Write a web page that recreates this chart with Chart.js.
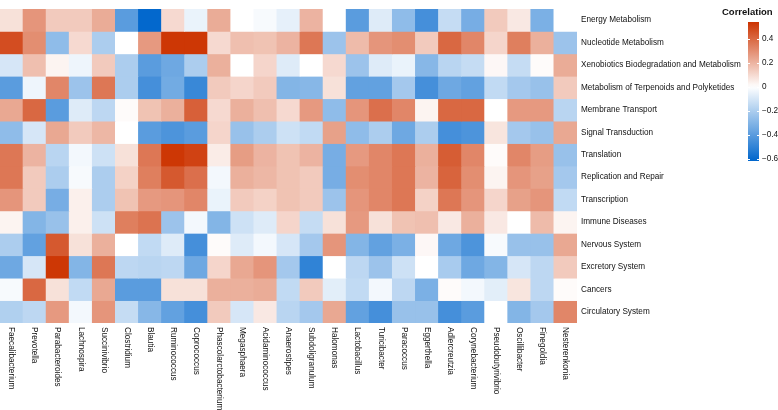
<!DOCTYPE html>
<html>
<head>
<meta charset="utf-8">
<script src="https://cdn.jsdelivr.net/npm/chart.js@4.4.1/dist/chart.umd.min.js"></script>
<style>
  html, body { margin: 0; padding: 0; background: #fff; }
  #heat { display: block; }
</style>
</head>
<body>
<canvas id="heat" width="778" height="410"></canvas>
<script>
// genera (columns) and KEGG pathways (rows)
const genera = ["Faecalibacterium", "Prevotella", "Parabacteroides", "Lachnospira", "Succinivibrio",
  "Clostridium", "Blautia", "Ruminococcus", "Coprococcus", "Phascolarctobacterium", "Megasphaera",
  "Acidaminococcus", "Anaerostipes", "Subdoligranulum", "Halomonas", "Lactobacillus", "Turicibacter",
  "Paracoccus", "Eggerthella", "Adlercreutzia", "Corynebacterium", "Pseudobutyrivibrio",
  "Oscillibacter", "Finegoldia", "Nesterenkonia"];

const pathways = ["Energy Metabolism", "Nucleotide Metabolism", "Xenobiotics Biodegradation and Metabolism",
  "Metabolism of Terpenoids and Polyketides", "Membrane Transport", "Signal Transduction", "Translation",
  "Replication and Repair", "Transcription", "Immune Diseases", "Nervous System", "Excretory System",
  "Cancers", "Circulatory System"];

// correlation per pathway, one value per genus
const energyMetabolism = [0.08, 0.28, 0.14, 0.14, 0.22, -0.40, -0.61, 0.10, -0.05, 0.22, 0.00, -0.02, -0.06, 0.20, 0.00, -0.40, -0.08, -0.27, -0.45, -0.14, -0.33, 0.14, 0.06, -0.32, 0.00];
const nucleotideMetabolism = [0.47, 0.30, -0.27, 0.10, -0.20, 0.00, 0.27, 0.53, 0.53, 0.10, 0.17, 0.16, 0.20, 0.36, -0.24, 0.18, 0.28, 0.30, 0.14, 0.40, 0.32, 0.11, 0.34, 0.21, -0.24];
const xenobiotics = [-0.10, 0.17, 0.03, -0.04, 0.14, -0.20, -0.40, -0.35, -0.20, 0.21, 0.00, 0.11, -0.08, 0.00, 0.10, -0.24, -0.08, -0.05, -0.29, -0.17, -0.14, 0.02, -0.14, 0.01, 0.22];
const terpenoids = [-0.40, -0.04, 0.32, -0.24, 0.36, -0.20, -0.45, -0.34, -0.48, 0.14, 0.11, 0.14, -0.30, -0.29, 0.08, -0.38, -0.38, -0.22, -0.45, -0.35, -0.38, -0.15, -0.22, -0.25, 0.14];
const membraneTransport = [0.23, 0.40, -0.40, -0.08, -0.16, 0.01, 0.16, 0.21, 0.42, 0.10, 0.21, 0.17, 0.10, 0.27, -0.27, 0.28, 0.38, 0.32, 0.03, 0.40, 0.40, 0.00, 0.27, 0.27, -0.17];
const signalTransduction = [-0.27, -0.10, 0.23, 0.14, 0.19, 0.00, -0.40, -0.43, -0.40, 0.11, -0.25, -0.20, -0.12, -0.15, 0.25, -0.27, -0.20, -0.35, -0.20, -0.45, -0.43, 0.07, -0.22, -0.25, 0.23];
const translation = [0.36, 0.20, -0.17, -0.03, -0.12, 0.08, 0.36, 0.53, 0.50, 0.05, 0.26, 0.20, 0.16, 0.20, -0.33, 0.27, 0.32, 0.36, 0.21, 0.43, 0.32, 0.01, 0.32, 0.26, -0.25];
const replicationRepair = [0.36, 0.14, -0.20, -0.02, -0.20, 0.12, 0.34, 0.44, 0.38, -0.03, 0.21, 0.19, 0.16, 0.14, -0.33, 0.30, 0.32, 0.36, 0.20, 0.41, 0.30, 0.03, 0.28, 0.25, -0.22];
const transcription = [0.28, 0.14, -0.33, 0.04, -0.20, 0.16, 0.27, 0.28, 0.32, -0.05, 0.14, 0.12, 0.16, 0.14, -0.24, 0.28, 0.32, 0.36, 0.12, 0.36, 0.28, 0.11, 0.25, 0.28, -0.15];
const immuneDiseases = [0.03, -0.30, -0.25, 0.04, -0.12, 0.34, 0.37, -0.24, -0.03, -0.30, -0.12, -0.08, 0.11, -0.14, 0.08, 0.27, 0.08, 0.16, 0.17, 0.06, 0.21, 0.06, 0.00, 0.18, 0.03];
const nervousSystem = [-0.20, -0.38, 0.44, 0.08, 0.21, 0.00, -0.15, -0.08, -0.45, 0.01, -0.08, -0.03, -0.10, -0.22, 0.28, -0.30, -0.38, -0.32, 0.02, -0.35, -0.43, -0.02, -0.25, -0.25, 0.23];
const excretorySystem = [-0.35, -0.10, 0.53, -0.30, 0.36, -0.16, -0.17, -0.16, -0.35, 0.11, 0.23, 0.28, -0.22, -0.50, 0.00, -0.16, -0.24, -0.12, 0.00, -0.21, -0.35, -0.30, -0.10, -0.16, 0.14];
const cancers = [-0.02, 0.40, 0.08, -0.15, 0.23, -0.40, -0.40, 0.08, 0.08, 0.21, 0.21, 0.22, -0.15, 0.14, -0.07, -0.15, -0.03, -0.16, -0.32, 0.01, -0.03, -0.07, 0.07, -0.16, 0.01];
const circulatorySystem = [-0.19, -0.16, 0.27, -0.03, 0.28, -0.14, -0.29, -0.38, -0.45, 0.14, -0.10, 0.06, -0.17, -0.22, 0.23, -0.38, -0.45, -0.25, -0.25, -0.45, -0.40, 0.00, -0.30, -0.22, 0.32];

const values = [energyMetabolism, nucleotideMetabolism, xenobiotics, terpenoids, membraneTransport,
  signalTransduction, translation, replicationRepair, transcription, immuneDiseases, nervousSystem,
  excretorySystem, cancers, circulatorySystem];

// colour bar range and ticks
const legendMax = 0.54;
const legendMin = -0.617;
const legendTicks = [0.4, 0.2, 0, -0.2, -0.4, -0.6];

const FONT = "'Liberation Sans', Arial, sans-serif";
const HIGH = [204, 51, 0];
const LOW = [0, 102, 204];

function colorFor(v) {
  const end = v >= 0 ? HIGH : LOW;
  let t = v >= 0 ? v / legendMax : v / legendMin;
  t = Math.max(0, Math.min(1, t));
  const c = end.map((e) => Math.round(255 + (e - 255) * t));
  return `rgb(${c[0]},${c[1]},${c[2]})`;
}

// x labels read top-to-bottom + colour bar legend
const extrasPlugin = {
  id: "extras",
  afterDraw(chart) {
    const ctx = chart.ctx;
    const xs = chart.scales.x;
    const area = chart.chartArea;
    ctx.save();
    ctx.fillStyle = "#111";
    ctx.font = `8.2px ${FONT}`;
    ctx.textAlign = "left";
    ctx.textBaseline = "middle";
    genera.forEach((g, i) => {
      ctx.save();
      ctx.translate(xs.getPixelForValue(i), area.bottom + 4);
      ctx.rotate(Math.PI / 2);
      ctx.fillText(g, 0, 0);
      ctx.restore();
    });

    // legend
    const barX = 748, barW = 11, barTop = 22, barBottom = 161;
    const yFor = (v) => barTop + (legendMax - v) / (legendMax - legendMin) * (barBottom - barTop);
    const grad = ctx.createLinearGradient(0, barTop, 0, barBottom);
    for (let k = 0; k <= 40; k++) {
      const v = legendMax - k * (legendMax - legendMin) / 40;
      grad.addColorStop(k / 40, colorFor(v));
    }
    ctx.fillStyle = grad;
    ctx.fillRect(barX, barTop, barW, barBottom - barTop);

    ctx.strokeStyle = "#fff";
    ctx.lineWidth = 1;
    legendTicks.forEach((t) => {
      const y = Math.round(yFor(t)) + 0.5;
      ctx.beginPath();
      ctx.moveTo(barX, y); ctx.lineTo(barX + 2, y);
      ctx.moveTo(barX + barW - 2, y); ctx.lineTo(barX + barW, y);
      ctx.stroke();
    });

    ctx.fillStyle = "#111";
    ctx.font = `8.2px ${FONT}`;
    legendTicks.forEach((t) => {
      const lbl = t === 0 ? "0" : (t < 0 ? "\u2212" : "") + Math.abs(t).toFixed(1);
      ctx.fillText(lbl, barX + barW + 3, yFor(t));
    });

    ctx.font = `bold 9.5px ${FONT}`;
    ctx.fillText("Correlation", 722, 12);
    ctx.restore();
  },
};

const datasets = pathways.map((p, r) => ({
  label: p,
  data: genera.map(() => [r, r + 1]),
  backgroundColor: values[r].map(colorFor),
  borderWidth: 0,
  inflateAmount: 0.4,
  barPercentage: 1,
  categoryPercentage: 1,
}));

new Chart(document.getElementById("heat"), {
  type: "bar",
  data: { labels: genera, datasets },
  options: {
    responsive: false,
    animation: false,
    devicePixelRatio: 1,
    layout: { padding: 0 },
    plugins: { legend: { display: false }, tooltip: { enabled: false } },
    scales: {
      x: {
        stacked: true,
        grid: { display: false, drawTicks: false },
        border: { display: false },
        ticks: { display: false },
        afterFit(scale) { scale.height = 87; },
      },
      y: {
        type: "linear",
        position: "right",
        min: 0,
        max: pathways.length,
        reverse: true,
        stacked: false,
        grid: { display: false, drawTicks: false },
        border: { display: false },
        afterBuildTicks(scale) {
          scale.ticks = pathways.map((_, i) => ({ value: i + 0.5 }));
        },
        ticks: {
          autoSkip: false,
          padding: 4,
          color: "#111",
          font: { family: FONT, size: 8.2 },
          callback: (v, i) => pathways[i],
        },
        afterFit(scale) { scale.width = 201; },
      },
    },
  },
  plugins: [extrasPlugin],
});
</script>
</body>
</html>
